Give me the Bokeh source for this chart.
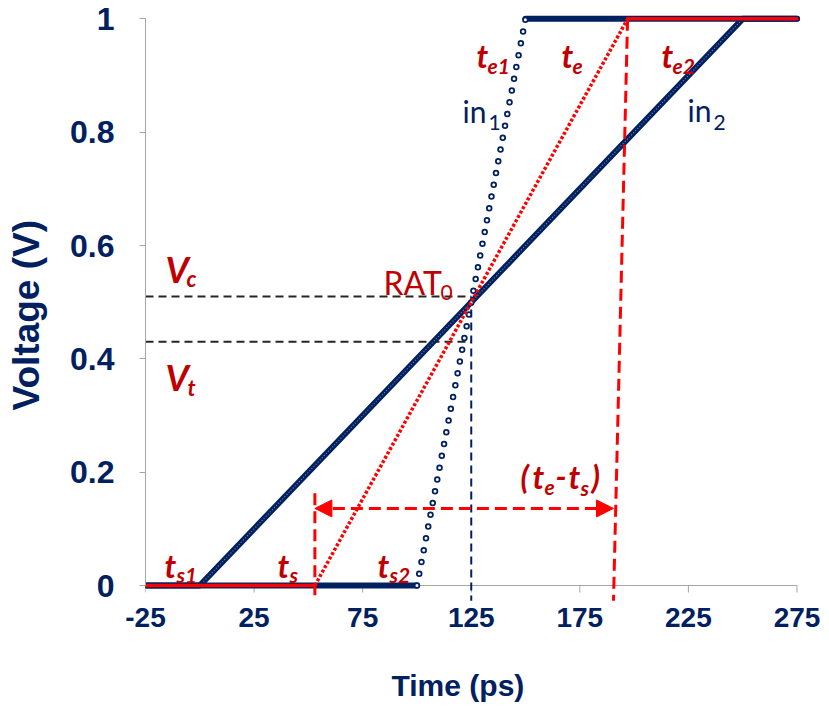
from bokeh.plotting import figure
from bokeh.models import Label, Arrow, NormalHead, FixedTicker, Range1d, LinearAxis, Title
from bokeh.embed import file_html
from bokeh.resources import INLINE

# ---------------- data ----------------
in1_t = [-25, 100, 150, 275]          # input 1 (fast ramp) breakpoints, ps
in1_v = [0, 0, 1, 1]
in2_t = [-25, 0, 250, 275]            # input 2 (slow ramp) breakpoints, ps
in2_v = [0, 0, 1, 1]
out_t = [-25, 53, 197, 275]           # merged waveform (t_s .. t_e)
out_v = [0, 0, 1, 1]
v_c = 0.51                            # V_c level
v_t = 0.43                            # V_t level
rat0_t = 125                          # RAT_0 time
te_marker_t = [197, 190.5]            # t_e marker (slanted dashed line)
te_marker_v = [1.0, -0.027]
ts_marker_v = [0.163, -0.027]         # t_s marker
span_v = 0.136                        # level of (t_e - t_s) arrow
x_ticks = [-25, 25, 75, 125, 175, 225, 275]
x_tick_labels = ["-25", "25", "75", "125", "175", "225", "275"]
y_ticks = [0, 0.2, 0.4, 0.6, 0.8, 1]
y_tick_labels = ["0", "0.2", "0.4", "0.6", "0.8", "1"]
x_title = "Time (ps)"
y_title = "Voltage (V)"

NAVY = "#002060"
RED = "#FF0000"
DRED = "#C00000"
GRAY = "#A6A6A6"
TICK_LEN_V = 7 / 567.0

p = figure(width=829, height=709,
           x_range=Range1d(-25, 278), y_range=Range1d(-0.03, 1.02),
           output_backend="svg", toolbar_location=None,
           min_border_left=145, min_border_right=26,
           min_border_top=7, min_border_bottom=107)
p.outline_line_color = None
p.grid.visible = False
p.background_fill_color = "white"
p.border_fill_color = "white"

# y axis
p.yaxis.bounds = (y_ticks[0], y_ticks[-1])
p.yaxis.ticker = FixedTicker(ticks=y_ticks)
p.yaxis.major_label_overrides = {t: l for t, l in zip(y_ticks, y_tick_labels)}
p.yaxis.axis_line_color = GRAY
p.yaxis.major_tick_line_color = GRAY
p.yaxis.minor_tick_line_color = None
p.yaxis.major_tick_in = 0
p.yaxis.major_tick_out = 6
p.yaxis.major_label_text_color = NAVY
p.yaxis.major_label_text_font = "Liberation Sans"
p.yaxis.major_label_text_font_style = "bold"
p.yaxis.major_label_text_font_size = "32px"
p.yaxis.major_label_standoff = 25

# x axis: labels from the axis, rule and ticks drawn at V = 0
p.xaxis.ticker = FixedTicker(ticks=x_ticks)
p.xaxis.major_label_overrides = {t: l for t, l in zip(x_ticks, x_tick_labels)}
p.xaxis.axis_line_color = None
p.xaxis.major_tick_line_color = None
p.xaxis.minor_tick_line_color = None
p.xaxis.major_tick_in = 0
p.xaxis.major_tick_out = 0
p.xaxis.major_label_text_color = NAVY
p.xaxis.major_label_text_font = "Liberation Sans"
p.xaxis.major_label_text_font_style = "bold"
p.xaxis.major_label_text_font_size = "28px"
p.xaxis.major_label_standoff = 5

p.line([x_ticks[0], x_ticks[-1]], [0, 0], line_color=GRAY, line_width=1)
p.segment(x0=x_ticks, y0=[0] * len(x_ticks), x1=x_ticks,
          y1=[-TICK_LEN_V] * len(x_ticks), line_color=GRAY, line_width=1)


# axis titles: a blank spacer axis (white ticks on the white border, no labels),
# then a Title placed along the axis
def spacer(ticks, gap):
    return LinearAxis(ticker=FixedTicker(ticks=ticks), axis_line_color=None,
                      major_tick_line_color="white", minor_tick_line_color=None,
                      major_tick_in=0, major_tick_out=gap, major_label_standoff=0,
                      major_label_text_color=None, major_label_text_font_size="0px")


p.add_layout(spacer(x_ticks, 37), "below")
p.add_layout(Title(text=x_title, align="left", offset=246, standoff=0,
                   text_font="Liberation Sans", text_font_style="bold",
                   text_font_size="30px", text_color=NAVY), "below")
p.add_layout(spacer(y_ticks, 21), "left")
p.add_layout(Title(text=y_title, align="left", offset=192, standoff=0,
                   text_font="Liberation Sans", text_font_style="bold",
                   text_font_size="37px", text_color=NAVY), "left")

# reference levels
p.line([in2_t[0], rat0_t], [v_c, v_c], line_color="#262626", line_width=2, line_dash="8 5")
p.line([in2_t[0], rat0_t], [v_t, v_t], line_color="#262626", line_width=2, line_dash="8 5")
p.line([rat0_t, rat0_t], [v_c, ts_marker_v[1]], line_color=NAVY, line_width=2, line_dash="8 5")

# input 2 : solid line with markers
p.line(in2_t, in2_v, line_color=NAVY, line_width=6, line_cap="round", line_join="round")
p.line(in2_t[1:3], in2_v[1:3], line_color="white", line_alpha=0.45, line_width=1.3,
       line_dash="0 3", line_cap="round")

# input 1 : solid flats, marker-only ramp
p.line(in1_t[0:2], in1_v[0:2], line_color=NAVY, line_width=6, line_cap="round")
p.line(in1_t[2:4], in1_v[2:4], line_color=NAVY, line_width=6, line_cap="round")
p.line(in1_t[1:3], in1_v[1:3], line_color=NAVY, line_width=6.5, line_dash="0 12", line_cap="round")
p.line(in1_t[1:3], in1_v[1:3], line_color="white", line_width=3, line_dash="0 12", line_cap="round")

# merged output
p.line(out_t[1:3], out_v[1:3], line_color=RED, line_width=3.5, line_dash="3 2")
p.line(out_t[0:2], out_v[0:2], line_color=RED, line_width=3.5, line_cap="round")
p.line(out_t[2:4], out_v[2:4], line_color=RED, line_width=3.5, line_cap="round")

# t_s / t_e markers and span arrow
p.line([out_t[1], out_t[1]], ts_marker_v, line_color=RED, line_width=3, line_dash="12 6")
p.line(te_marker_t, te_marker_v, line_color=RED, line_width=3, line_dash="12 6")
p.add_layout(Arrow(x_start=out_t[1], y_start=span_v, x_end=te_marker_t[1], y_end=span_v,
                   line_color=RED, line_width=3, line_dash="12 6",
                   start=NormalHead(size=17, fill_color=RED, line_color=RED, line_width=1),
                   end=NormalHead(size=17, fill_color=RED, line_color=RED, line_width=1)))

# ---------------- text ----------------
PX_X0, PX_T, PX_Y0, PX_V = 145.0, 658.0 / 303.0, 585.3, 567.0


def lab(px, py, text, size, color, style="bold italic", font="Lato"):
    x = x_ticks[0] + (px - PX_X0) / PX_T
    y = (PX_Y0 - py) / PX_V
    p.add_layout(Label(x=x, y=y, text=text, text_font=font,
                       text_font_size=f"{size}px", text_font_style=style,
                       text_color=color, text_baseline="alphabetic", text_align="left"))


MAIN, SUB = 32, 21
# t_e1, t_e, t_e2
for px, sub in ((476, "e1"), (561, "e"), (661, "e2")):
    lab(px, 55, "t", MAIN, DRED)
    lab(px + 11, 66, sub, SUB, DRED)
# t_s1, t_s, t_s2
for px, sub in ((164, "s1"), (277, "s"), (377, "s2")):
    lab(px, 565, "t", MAIN, DRED)
    lab(px + 12, 574, sub, SUB, DRED)
# in_1, in_2
lab(462, 111, "in", 30, NAVY, style="normal")
lab(488, 122, "1", 21, NAVY, style="normal")
lab(687, 110, "in", 30, NAVY, style="normal")
lab(713, 122, "2", 21, NAVY, style="normal")
# V_c, V_t
lab(165, 269, "V", 36, DRED)
lab(186, 278, "c", 22, DRED)
lab(165, 377, "V", 36, DRED)
lab(187, 387, "t", 22, DRED)
# RAT_0
lab(383, 282, "RAT", 32, DRED, style="normal")
lab(440, 292, "0", 21, DRED, style="normal")
# (t_e - t_s)
lab(520, 476, "(", MAIN, DRED)
lab(532, 476, "t", MAIN, DRED)
lab(544, 487, "e", SUB, DRED)
lab(555, 476, "-", MAIN, DRED)
lab(568, 476, "t", MAIN, DRED)
lab(580, 487, "s", SUB, DRED)
lab(591, 476, ")", MAIN, DRED)

open("out.html", "w").write(file_html(p, INLINE))
